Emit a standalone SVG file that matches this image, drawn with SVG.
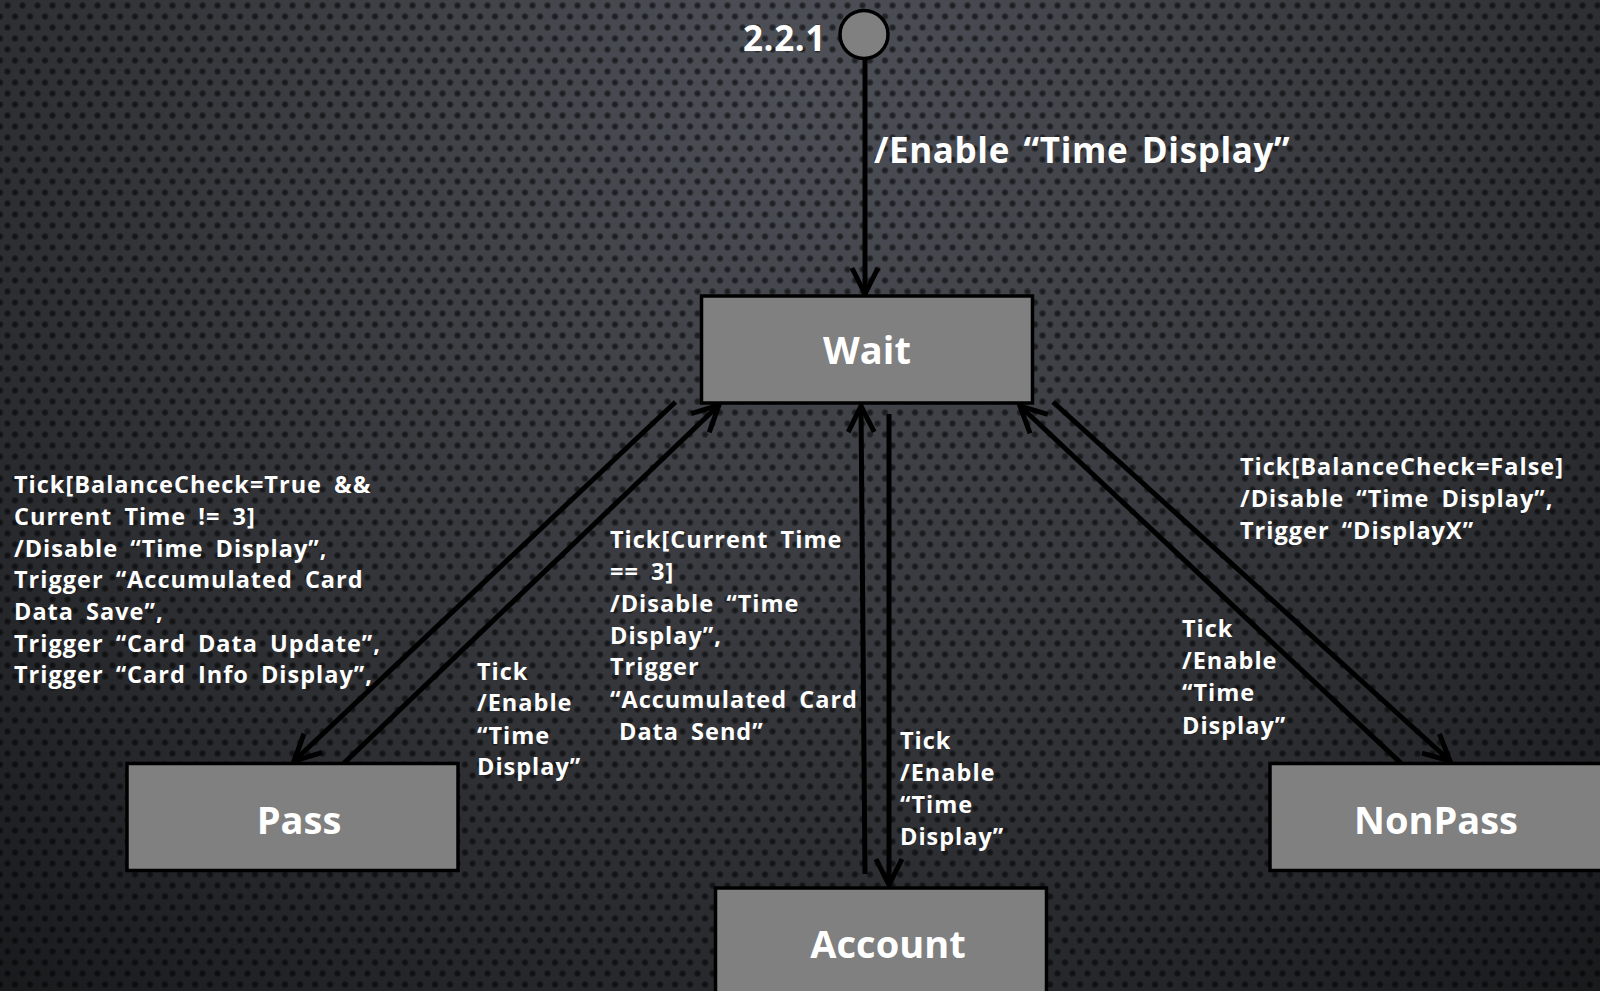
<svg xmlns="http://www.w3.org/2000/svg" width="1600" height="991" viewBox="0 0 1600 991">
<defs>
<radialGradient id="bg" cx="800" cy="60" r="1250" gradientUnits="userSpaceOnUse">
<stop offset="0" stop-color="#4d5057"/>
<stop offset="0.45" stop-color="#383a3f"/>
<stop offset="1" stop-color="#18191b"/>
</radialGradient>
<radialGradient id="dotg">
<stop offset="0" stop-color="#000" stop-opacity="0.65"/>
<stop offset="0.6" stop-color="#000" stop-opacity="0.45"/>
<stop offset="1" stop-color="#000" stop-opacity="0"/>
</radialGradient>
<pattern id="dots" width="15" height="22" patternUnits="userSpaceOnUse">
<circle cx="7.5" cy="5.5" r="4" fill="url(#dotg)"/>
<circle cx="0" cy="16.5" r="4" fill="url(#dotg)"/>
<circle cx="15" cy="16.5" r="4" fill="url(#dotg)"/>
</pattern>
<marker id="arr" markerUnits="userSpaceOnUse" markerWidth="40" markerHeight="40" viewBox="-32 -20 40 40" refX="0" refY="0" orient="auto" overflow="visible">
<path d="M-26,-13 L0,0 L-26,13" fill="none" stroke="#000" stroke-width="5"/>
</marker>
</defs>
<style>
.t{font-family:"Open Sans","Noto Sans","DejaVu Sans",sans-serif;font-weight:bold;fill:#fff}
.lbl{font-size:23.5px;letter-spacing:1px;word-spacing:5px}
.big{font-size:35px;letter-spacing:0.6px;word-spacing:4px}
.nd{font-size:38px;text-anchor:middle}
.box{fill:#808080;stroke:#000;stroke-width:3.5}
.ln{stroke:#000;stroke-width:5;fill:none}
</style>
<rect width="1600" height="991" fill="url(#bg)"/>
<rect width="1600" height="991" fill="url(#dots)"/>

<g id="connectors">
<line class="ln" x1="865" y1="59" x2="865" y2="294" marker-end="url(#arr)"/>
<line class="ln" x1="675.5" y1="402" x2="294" y2="761" marker-end="url(#arr)"/>
<line class="ln" x1="342" y1="765" x2="719" y2="405" marker-end="url(#arr)"/>
<line class="ln" x1="865" y1="874" x2="861" y2="406" marker-end="url(#arr)"/>
<line class="ln" x1="889" y1="414" x2="889" y2="885" marker-end="url(#arr)"/>
<line class="ln" x1="1053" y1="402" x2="1450" y2="761" marker-end="url(#arr)"/>
<line class="ln" x1="1403" y1="765" x2="1020" y2="406" marker-end="url(#arr)"/>
</g>

<g id="start">
<circle cx="864" cy="34.5" r="24" fill="#808080" stroke="#000" stroke-width="3.5"/>
<text class="t big" x="743" y="51">2.2.1</text>
</g>

<g id="wait">
<rect class="box" x="701.5" y="296" width="331" height="107"/>
<text class="t nd" x="867" y="364">Wait</text>
</g>
<g id="pass">
<rect class="box" x="127" y="763.5" width="331" height="107"/>
<text class="t nd" x="299" y="834">Pass</text>
</g>
<g id="account">
<rect class="box" x="715.5" y="888" width="331" height="110"/>
<text class="t nd" x="888" y="958">Account</text>
</g>
<g id="nonpass">
<rect class="box" x="1270" y="763.5" width="340" height="107"/>
<text class="t nd" x="1436" y="834">NonPass</text>
</g>

<g id="labels">
<text class="t big" x="874" y="163">/Enable “Time Display”</text>
<text class="t lbl" x="14">
<tspan x="14" y="493">Tick[BalanceCheck=True &amp;&amp;</tspan>
<tspan x="14" y="525">Current Time != 3]</tspan>
<tspan x="14" y="557">/Disable “Time Display”,</tspan>
<tspan x="14" y="588">Trigger “Accumulated Card</tspan>
<tspan x="14" y="620">Data Save”,</tspan>
<tspan x="14" y="652">Trigger “Card Data Update”,</tspan>
<tspan x="14" y="683">Trigger “Card Info Display”,</tspan>
</text>
<text class="t lbl">
<tspan x="477" y="680">Tick</tspan>
<tspan x="477" y="711">/Enable</tspan>
<tspan x="477" y="744">“Time</tspan>
<tspan x="477" y="775">Display”</tspan>
</text>
<text class="t lbl">
<tspan x="610" y="548">Tick[Current Time</tspan>
<tspan x="610" y="580">== 3]</tspan>
<tspan x="610" y="612">/Disable “Time</tspan>
<tspan x="610" y="644">Display”,</tspan>
<tspan x="610" y="675">Trigger</tspan>
<tspan x="610" y="708">“Accumulated Card</tspan>
<tspan x="619" y="740">Data Send”</tspan>
</text>
<text class="t lbl">
<tspan x="900" y="749">Tick</tspan>
<tspan x="900" y="781">/Enable</tspan>
<tspan x="900" y="813">“Time</tspan>
<tspan x="900" y="845">Display”</tspan>
</text>
<text class="t lbl">
<tspan x="1240" y="475">Tick[BalanceCheck=False]</tspan>
<tspan x="1240" y="507">/Disable “Time Display”,</tspan>
<tspan x="1240" y="539">Trigger “DisplayX”</tspan>
</text>
<text class="t lbl">
<tspan x="1182" y="637">Tick</tspan>
<tspan x="1182" y="669">/Enable</tspan>
<tspan x="1182" y="701">“Time</tspan>
<tspan x="1182" y="734">Display”</tspan>
</text>
</g>
</svg>
